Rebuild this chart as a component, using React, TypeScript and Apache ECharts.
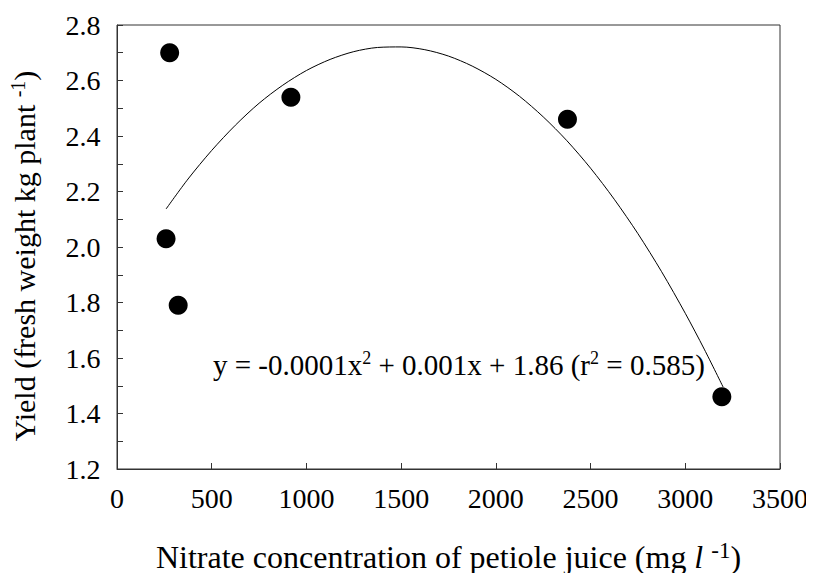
import React, { useEffect, useRef } from "react";
import * as echarts from "echarts";

// Observed data points (nitrate mg/l, yield kg/plant)
const nitrate = [278, 259, 323, 918, 2378, 3193];
const yieldKg = [2.70, 2.03, 1.79, 2.54, 2.46, 1.46];

const curveX = [259, 375, 500, 625, 750, 875, 1000, 1125, 1250, 1375, 1500, 1625, 1750, 1875, 2000, 2125, 2250, 2375, 2500, 2625, 2750, 2875, 3000, 3100, 3200];
const curveY = [2.137, 2.245, 2.348, 2.439, 2.518, 2.583, 2.636, 2.676, 2.704, 2.719, 2.721, 2.711, 2.688, 2.652, 2.604, 2.543, 2.469, 2.383, 2.284, 2.172, 2.048, 1.911, 1.761, 1.632, 1.495];

// Tick labels
const xTickValues = [0, 500, 1000, 1500, 2000, 2500, 3000, 3500];
const yTickValues = [1.2, 1.4, 1.6, 1.8, 2.0, 2.2, 2.4, 2.6, 2.8];

const xTicks = { min: 0, max: 3500, interval: 500 };
const yTicks = { min: 1.2, max: 2.8, interval: 0.2 };

const equationText = "y = -0.0001x{sup|2} + 0.001x + 1.86 (r{sup|2} = 0.585)";
const xTitle = "{n|Nitrate concentration of petiole juice (mg }{it|l}{n| }{sup|-1}{n|)}";
const yTitle = "{n|Yield (fresh weight kg plant }{sup|-1}{n|)}";

const FONT = "Liberation Serif";

export default function App() {
  const ref = useRef<HTMLDivElement>(null);
  useEffect(() => {
    if (!ref.current) return;
    const chart = echarts.init(ref.current, null, { renderer: "svg" });
    const axisColor = "#333";
    const tickLabelRich = { t: { fontFamily: FONT, fontSize: 28, color: "#000" } };
    chart.setOption({
      animation: false,
      backgroundColor: "#fff",
      textStyle: { fontFamily: FONT, color: "#000" },
      grid: {
        left: 117,
        right: 34,
        top: 25,
        bottom: 112,
        show: true,
        borderColor: axisColor,
        borderWidth: 1,
        containLabel: false,
      },
      xAxis: {
        type: "value",
        min: xTicks.min,
        max: xTicks.max,
        interval: xTicks.interval,
        splitLine: { show: false },
        axisLine: { show: true, onZero: false, lineStyle: { color: axisColor, width: 1 } },
        axisTick: { show: true, inside: true, length: 6, lineStyle: { color: axisColor } },
        axisLabel: { show: false },
        name: xTitle,
        nameLocation: "middle",
        nameGap: 70,
        nameTextStyle: {
          fontFamily: FONT,
          fontSize: 32,
          color: "#000",
          rich: {
            n: { fontFamily: FONT, fontSize: 32, color: "#000" },
            it: { fontFamily: FONT, fontSize: 32, fontStyle: "italic", color: "#000" },
            sup: { fontFamily: FONT, fontSize: 23, color: "#000", padding: [0, 0, 13, 0] },
          },
        },
      },
      yAxis: {
        type: "value",
        min: yTicks.min,
        max: yTicks.max,
        interval: yTicks.interval,
        splitLine: { show: false },
        axisLine: { show: true, onZero: false, lineStyle: { color: axisColor, width: 1 } },
        axisTick: { show: true, inside: true, length: 6, lineStyle: { color: axisColor } },
        minorTick: { show: true, splitNumber: 2, length: 6, lineStyle: { color: axisColor } },
        axisLabel: { show: false },
      },
      series: [
        {
          type: "line",
          data: curveX.map((x, i) => [x, curveY[i]]),
          smooth: 0.3,
          showSymbol: false,
          lineStyle: { color: "#000", width: 1 },
          z: 2,
        },
        {
          type: "scatter",
          data: nitrate.map((x, i) => [x, yieldKg[i]]),
          symbol: "circle",
          symbolSize: 19,
          itemStyle: { color: "#000", opacity: 1 },
          z: 3,
        },
        {
          // x tick labels, placed by the x axis scale
          type: "scatter",
          silent: true,
          clip: false,
          symbol: "circle",
          symbolSize: 1,
          data: xTickValues.map((v) => [v, yTicks.min]),
          itemStyle: { color: "rgba(0,0,0,0)", opacity: 1 },
          label: {
            show: true,
            position: "bottom",
            distance: 15,
            opacity: 1,
            formatter: (p: any) => "{t|" + String(p.value[0]) + "}",
            rich: tickLabelRich,
            fontFamily: FONT,
            fontSize: 28,
            color: "#000",
          },
          z: 4,
        },
        {
          // y tick labels, placed by the y axis scale
          type: "scatter",
          silent: true,
          clip: false,
          symbol: "circle",
          symbolSize: 1,
          data: yTickValues.map((v) => [xTicks.min, v]),
          itemStyle: { color: "rgba(0,0,0,0)", opacity: 1 },
          label: {
            show: true,
            position: "left",
            distance: 16,
            opacity: 1,
            formatter: (p: any) => "{t|" + Number(p.value[1]).toFixed(1) + "}",
            rich: tickLabelRich,
            fontFamily: FONT,
            fontSize: 28,
            color: "#000",
          },
          z: 4,
        },
      ],
      graphic: [
        {
          type: "text",
          left: 213,
          top: 349,
          style: {
            text: equationText,
            fontFamily: FONT,
            fontSize: 29,
            fill: "#000",
            rich: {
              sup: { fontFamily: FONT, fontSize: 18, fill: "#000", padding: [0, 0, 13, 0] },
            },
          },
        },
        {
          type: "text",
          x: 24,
          y: 256,
          rotation: Math.PI / 2,
          style: {
            text: yTitle,
            fontFamily: FONT,
            fontSize: 30,
            fill: "#000",
            align: "center",
            verticalAlign: "middle",
            rich: {
              n: { fontFamily: FONT, fontSize: 30, fill: "#000" },
              sup: { fontFamily: FONT, fontSize: 20, fill: "#000", padding: [0, 0, 12, 0] },
            },
          },
        },
      ],
    });
    return () => chart.dispose();
  }, []);
  return <div ref={ref} style={{ width: 814, height: 581, margin: -8 }} />;
}
